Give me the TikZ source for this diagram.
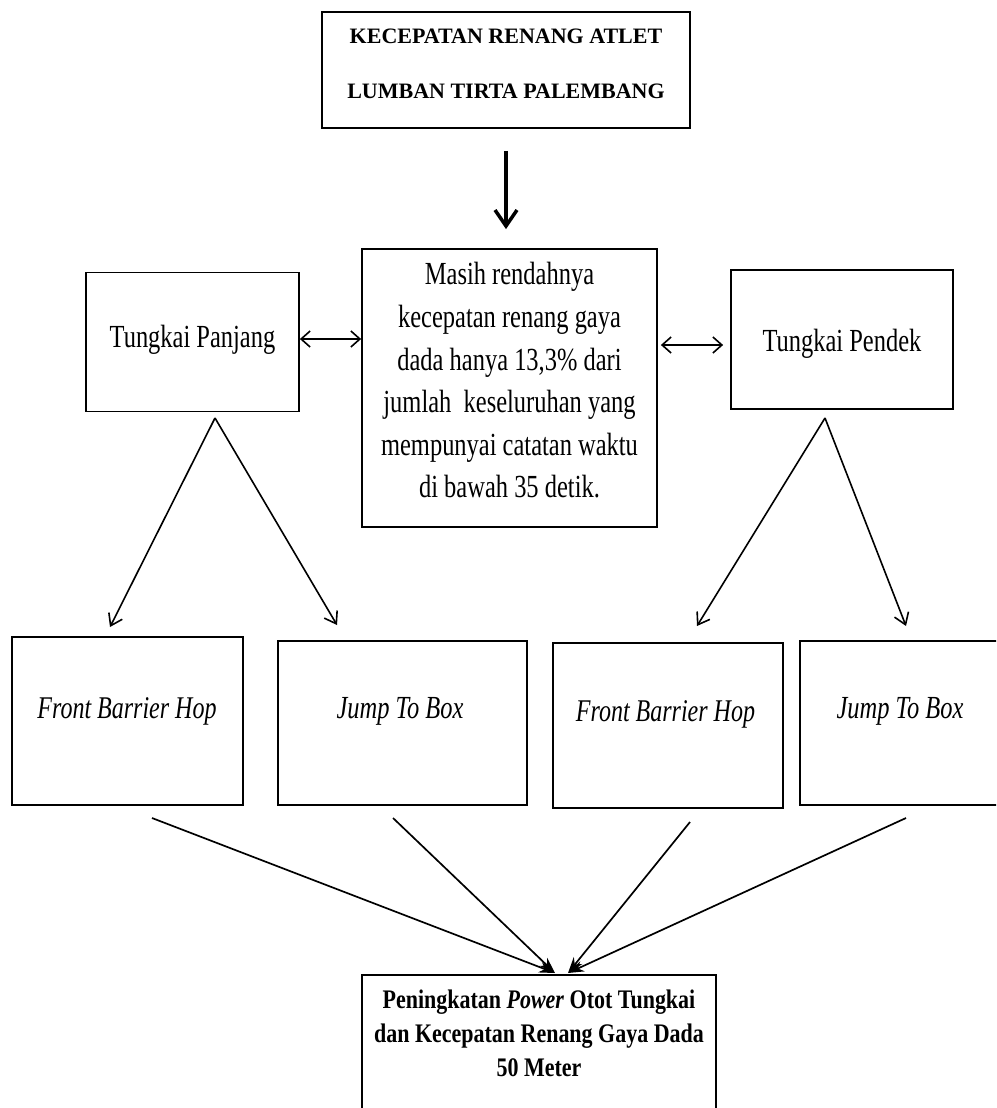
\documentclass[tikz,border=0pt]{standalone}
\usepackage{fontspec}
\setmainfont{Liberation Serif}
\newfontfamily\condfont{Liberation Serif}[FakeStretch=0.76]
\newfontfamily\condbfont{Liberation Serif}[FakeStretch=0.82]
\usetikzlibrary{arrows.meta,calc}
\begin{document}
\begin{tikzpicture}[x=1pt,y=-1pt,
  box/.style={draw, line width=1.8pt, inner sep=0pt},
  lbl/.style={align=center, inner sep=0pt},
  regtxt/.style={lbl, anchor=base, font=\condfont\fontsize{32.2}{42.6}\selectfont},
  ittxt/.style={lbl, anchor=base, font=\condfont\itshape\fontsize{31.6}{36}\selectfont},
  arr/.style={line width=1.6pt, -{Straight Barb[length=11pt,width=15pt]}},
  darr/.style={line width=1.6pt, {Straight Barb[length=9pt,width=16pt]}-{Straight Barb[length=9pt,width=16pt]}},
  bigarr/.style={line width=3.5pt, -{Straight Barb[length=16pt,width=22pt]}},
  conv/.style={line width=1.7pt, -{Stealth[length=16pt,width=11pt]}}]
\useasboundingbox (0,0) rectangle (996,1108);
\clip (0,0) rectangle (996,1108);
\fill[white] (0,0) rectangle (996,1108);

% boxes
\node[box, minimum width=368pt, minimum height=116pt] (top) at (506,70) {};
\node[box, minimum width=295pt, minimum height=278pt] (mid) at (509.5,388) {};
\node[box, minimum width=213pt, minimum height=139pt] (tp) at (192.5,342) {};
\node[box, minimum width=222pt, minimum height=139pt] (tpd) at (842,339.5) {};
\node[box, minimum width=231pt, minimum height=168pt] (b1) at (127.5,721) {};
\node[box, minimum width=249pt, minimum height=164pt] (b2) at (402.5,723) {};
\node[box, minimum width=230pt, minimum height=165pt] (b3) at (668,725.5) {};
\node[box, minimum width=200pt, minimum height=164pt] (b4) at (900,723) {};
\node[box, minimum width=354pt, minimum height=180pt] (fin) at (539,1065) {};

% texts
\node[lbl, font=\bfseries\fontsize{22}{55}\selectfont] (toptxt) at (506,64)
  {KECEPATAN RENANG ATLET\\LUMBAN TIRTA PALEMBANG};
\node[lbl, font=\condfont\fontsize{32.2}{42.6}\selectfont] (midtxt) at (509.5,380.5)
  {Masih rendahnya\\kecepatan renang gaya\\dada hanya 13,3\% dari\\jumlah\ \ keseluruhan yang\\mempunyai catatan waktu\\di bawah 35 detik.};
\node[regtxt] (tptxt) at (192.5,347) {Tungkai Panjang};
\node[regtxt] (tpdtxt) at (842,351) {Tungkai Pendek};
\node[ittxt] (b1txt) at (127,718) {Front Barrier Hop};
\node[ittxt, font=\condfont\itshape\fontsize{32.2}{36}\selectfont] (b2txt) at (400,718) {Jump To Box};
\node[ittxt] (b3txt) at (665.5,721.5) {Front Barrier Hop};
\node[ittxt, font=\condfont\itshape\fontsize{32.2}{36}\selectfont] (b4txt) at (900,718) {Jump To Box};
\node[lbl, font=\condbfont\bfseries\fontsize{26.8}{34}\selectfont] (fintxt) at (539,1033)
  {Peningkatan \textit{Power} Otot Tungkai\\dan Kecepatan Renang Gaya Dada\\50 Meter};

% connectors
\draw[bigarr] ($(top.south)+(0,22)$) -- ($(mid.north -| top.south)+(0,-19)$);
\draw[darr] (tp.east |- 0,339) -- (mid.west |- 0,339);
\draw[darr] ($(mid.east |- 0,345)+(3,0)$) -- ($(tpd.west |- 0,345)+(-7,0)$);

\coordinate (apL) at (215,418);
\coordinate (apR) at (825,418);
\coordinate (t1) at (110,627);
\coordinate (t2) at (337,625);
\coordinate (t3) at (697,626);
\coordinate (t4) at (906,626);
\draw[arr] (apL) -- (t1);
\draw[arr] (apL) -- (t2);
\draw[arr] (apR) -- (t3);
\draw[arr] (apR) -- (t4);

\coordinate (s1) at (152,818);
\coordinate (s2) at (393,818);
\coordinate (s3) at (690,822);
\coordinate (s4) at (906,818);
\coordinate (e1) at (555,973);
\coordinate (e2) at (568,973);
\draw[conv] (s1) -- (e1);
\draw[conv] (s2) -- (e1);
\draw[conv] (s3) -- (e2);
\draw[conv] (s4) -- (e2);
\end{tikzpicture}
\end{document}
